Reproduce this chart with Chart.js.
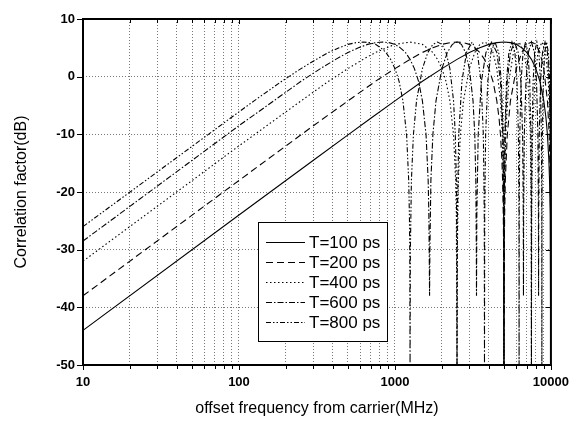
<!DOCTYPE html>
<html>
<head>
<meta charset="utf-8">
<script src="https://cdn.jsdelivr.net/npm/chart.js@4.4.0/dist/chart.umd.min.js"></script>
<style>
  html, body { margin: 0; padding: 0; background: #fff; }
</style>
</head>
<body>
<canvas id="chart" width="579" height="422"></canvas>
<script>
// valeurs (MHz / dB)
const seriesNames = ['T=100 ps', 'T=200 ps', 'T=400 ps', 'T=600 ps', 'T=800 ps'];

const f100 = [10, 100, 300, 500, 700, 1000, 1500, 2000, 2500, 3000, 3500, 4000, 4500, 5000,
  5500, 6000, 6500, 7000, 7500, 8000, 8500, 9000, 9300, 9500, 9700, 9800, 9900, 9950, 10000];
const db100 = [-44.0, -24.0, -14.5, -10.1, -7.2, -4.2, -0.8, 1.4, 3.0, 4.2, 5.0, 5.6, 5.9, 6.0,
  5.9, 5.6, 5.0, 4.2, 3.0, 1.4, -0.8, -4.2, -7.2, -10.1, -14.5, -18.0, -24.0, -30.0, -50];

const f200 = [10, 100, 300, 500, 750, 1000, 1250, 1500, 1750, 2000, 2250, 2500, 2750, 3000, 3250,
  3500, 3750, 4000, 4250, 4500, 4650, 4750, 4850, 4900, 4950, 4975, 5000,
  5025, 5050, 5100, 5250, 5500, 6000, 6500, 7000, 7500, 8000, 8500, 9000, 9500, 9750, 9900, 9950, 10000];
const db200 = [-38.0, -18.0, -8.5, -4.2, -0.8, 1.4, 3.0, 4.2, 5.0, 5.6, 5.9, 6.0, 5.9, 5.6, 5.0,
  4.2, 3.0, 1.4, -0.8, -4.2, -7.2, -10.1, -14.5, -18.0, -24.0, -30.0, -50,
  -30.0, -24.0, -18.0, -10.1, -4.2, 1.4, 4.2, 5.6, 6.0, 5.6, 4.2, 1.4, -4.2, -10.1, -18.0, -24.0, -50];

const f400 = [10, 100, 250, 375, 500, 625, 750, 1000, 1250, 1500, 1750, 1875, 2000, 2125, 2250, 2375, 2450, 2475, 2500,
  2513, 2550, 2625, 2750, 3000, 3250, 3500, 3750, 4000, 4250, 4500, 4750, 4875, 4950, 4988, 5000,
  5025, 5125, 5375, 5750, 6250, 6750, 7125, 7375, 7475, 7500,
  7525, 7625, 7875, 8250, 8750, 9250, 9625, 9875, 9975, 10000];
const db400 = [-32.0, -12.0, -4.2, -0.8, 1.4, 3.0, 4.2, 5.6, 6.0, 5.6, 4.2, 3.0, 1.4, -0.8, -4.2, -10.1, -18.0, -24.0, -50,
  -30.0, -18.0, -10.1, -4.2, 1.4, 4.2, 5.6, 6.0, 5.6, 4.2, 1.4, -4.2, -10.1, -18.0, -30.0, -50,
  -24.0, -10.1, -0.8, 4.2, 6.0, 4.2, -0.8, -10.1, -24.0, -50,
  -24.0, -10.1, -0.8, 4.2, 6.0, 4.2, -0.8, -10.1, -24.0, -50];

const f600 = [10, 100, 167, 250, 333, 417, 500, 583, 667, 750, 833, 917, 1000, 1083, 1167, 1250, 1333,
  1417, 1500, 1583, 1633, 1650, 1658, 1667,
  1675, 1700, 1750, 1833, 2000, 2167, 2333, 2500, 2667, 2833, 3000, 3167, 3250, 3300, 3325, 3333,
  3350, 3417, 3583, 3833, 4167, 4500, 4750, 4917, 4983, 5000,
  5017, 5083, 5250, 5500, 5833, 6167, 6417, 6583, 6650, 6667,
  6683, 6750, 6917, 7167, 7500, 7833, 8083, 8250, 8317, 8333,
  8350, 8417, 8583, 8833, 9167, 9500, 9750, 9917, 9983, 10000];
const db600 = [-28.5, -8.5, -4.2, -0.8, 1.4, 3.0, 4.2, 5.0, 5.6, 5.9, 6.0, 5.9, 5.6, 5.0, 4.2, 3.0, 1.4,
  -0.8, -4.2, -10.1, -18.0, -24.0, -30.0, -38,
  -30.0, -18.0, -10.1, -4.2, 1.4, 4.2, 5.6, 6.0, 5.6, 4.2, 1.4, -4.2, -10.1, -18.0, -30.0, -38,
  -24.0, -10.1, -0.8, 4.2, 6.0, 4.2, -0.8, -10.1, -24.0, -50,
  -24.0, -10.1, -0.8, 4.2, 6.0, 4.2, -0.8, -10.1, -24.0, -38,
  -24.0, -10.1, -0.8, 4.2, 6.0, 4.2, -0.8, -10.1, -24.0, -38,
  -24.0, -10.1, -0.8, 4.2, 6.0, 4.2, -0.8, -10.1, -24.0, -50];

const f800 = [10, 100, 125, 188, 250, 313, 375, 438, 500, 563, 625, 688, 750, 813, 875, 938, 1000,
  1063, 1125, 1188, 1225, 1238, 1244, 1250,
  1256, 1275, 1313, 1375, 1500, 1625, 1750, 1875, 2000, 2125, 2250, 2375, 2438, 2475, 2494, 2500,
  2513, 2563, 2688, 2875, 3125, 3375, 3563, 3688, 3738, 3750,
  3763, 3813, 3938, 4125, 4375, 4625, 4813, 4938, 4988, 5000,
  5013, 5063, 5188, 5375, 5625, 5875, 6063, 6188, 6238, 6250,
  6263, 6313, 6438, 6625, 6875, 7125, 7313, 7438, 7488, 7500,
  7513, 7563, 7688, 7875, 8125, 8375, 8563, 8688, 8738, 8750,
  8763, 8813, 8938, 9125, 9375, 9625, 9813, 9938, 9988, 10000];
const db800 = [-26.0, -6.1, -4.2, -0.8, 1.4, 3.0, 4.2, 5.0, 5.6, 5.9, 6.0, 5.9, 5.6, 5.0, 4.2, 3.0, 1.4,
  -0.8, -4.2, -10.1, -18.0, -24.0, -30.0, -50,
  -30.0, -18.0, -10.1, -4.2, 1.4, 4.2, 5.6, 6.0, 5.6, 4.2, 1.4, -4.2, -10.1, -18.0, -30.0, -50,
  -24.0, -10.1, -0.8, 4.2, 6.0, 4.2, -0.8, -10.1, -24.0, -50,
  -24.0, -10.1, -0.8, 4.2, 6.0, 4.2, -0.8, -10.1, -24.0, -50,
  -24.0, -10.1, -0.8, 4.2, 6.0, 4.2, -0.8, -10.1, -24.0, -50,
  -24.0, -10.1, -0.8, 4.2, 6.0, 4.2, -0.8, -10.1, -24.0, -50,
  -24.0, -10.1, -0.8, 4.2, 6.0, 4.2, -0.8, -10.1, -24.0, -50,
  -24.0, -10.1, -0.8, 4.2, 6.0, 4.2, -0.8, -10.1, -24.0, -50];

// graduations
const xTicks = [10, 20, 30, 40, 50, 60, 70, 80, 90, 100, 200, 300, 400, 500, 600, 700, 800, 900,
  1000, 2000, 3000, 4000, 5000, 6000, 7000, 8000, 9000, 10000];
const xLabels = [10, 100, 1000, 10000];
const yTicks = [-50, -40, -30, -20, -10, 0, 10];

// styles de trait
const dashes = [[], [7, 4], [1.5, 2.5], [6, 2, 1.5, 2], [5, 2, 1.5, 2, 1.5, 2]];

const allF = [f100, f200, f400, f600, f800];
const allDb = [db100, db200, db400, db600, db800];

const datasets = seriesNames.map((name, i) => ({
  label: name,
  data: allF[i].map((f, k) => ({ x: f, y: allDb[i][k] })),
  borderColor: '#000',
  borderWidth: 1.1,
  borderDash: dashes[i],
  pointRadius: 0,
  tension: 0,
  fill: false
}));

// cadre + petites graduations
const framePlugin = {
  id: 'frame',
  afterDatasetsDraw(chart) {
    const { ctx, chartArea: ca, scales: { x, y } } = chart;
    ctx.save();
    ctx.strokeStyle = '#000';
    ctx.lineWidth = 1;
    ctx.beginPath();
    xTicks.forEach(v => {
      const px = Math.round(x.getPixelForValue(v)) + 0.5;
      const len = xLabels.includes(v) ? 5 : 4;
      ctx.moveTo(px, ca.bottom); ctx.lineTo(px, ca.bottom + len);
      ctx.moveTo(px, ca.top); ctx.lineTo(px, ca.top + len);
    });
    yTicks.forEach(v => {
      const py = Math.round(y.getPixelForValue(v)) + 0.5;
      ctx.moveTo(ca.left - 6, py); ctx.lineTo(ca.left, py);
      ctx.moveTo(ca.right, py); ctx.lineTo(ca.right - 5, py);
    });
    ctx.stroke();
    ctx.lineWidth = 2;
    ctx.strokeRect(ca.left, ca.top, ca.right - ca.left, ca.bottom - ca.top);
    ctx.restore();
  }
};

// légende dans le cadre
const legendPlugin = {
  id: 'boxLegend',
  afterDraw(chart) {
    const { ctx } = chart;
    const bx = 258, by = 222, bw = 129, bh = 119;
    ctx.save();
    ctx.fillStyle = '#fff';
    ctx.fillRect(bx, by, bw, bh);
    ctx.strokeStyle = '#000';
    ctx.lineWidth = 1;
    ctx.strokeRect(bx + 0.5, by + 0.5, bw, bh);
    ctx.font = '17px Arial, "Liberation Sans", sans-serif';
    ctx.fillStyle = '#000';
    ctx.textBaseline = 'middle';
    chart.data.datasets.forEach((ds, i) => {
      const ly = by + 20 + i * 20 + 0.5;
      ctx.setLineDash(ds.borderDash);
      ctx.beginPath();
      ctx.moveTo(bx + 8, ly);
      ctx.lineTo(bx + 47, ly);
      ctx.stroke();
      ctx.setLineDash([]);
      ctx.fillText(ds.label, bx + 51, ly + 1);
    });
    ctx.restore();
  }
};

const tickFont = { family: 'Arial, "Liberation Sans", sans-serif', size: 13, weight: 'bold' };
const titleFont = { family: 'Arial, "Liberation Sans", sans-serif', size: 16 };

new Chart(document.getElementById('chart'), {
  type: 'line',
  data: { datasets },
  options: {
    responsive: false,
    animation: false,
    layout: { padding: { top: 19, right: 23, left: 0, bottom: 0 } },
    plugins: { legend: { display: false }, tooltip: { enabled: false } },
    scales: {
      x: {
        type: 'logarithmic',
        min: 10,
        max: 10000,
        afterBuildTicks: s => { s.ticks = xTicks.map(v => ({ value: v })); },
        afterFit: s => { s.height = 57; },
        ticks: {
          autoSkip: false,
          maxRotation: 0,
          padding: 10,
          color: '#000',
          font: tickFont,
          callback: v => xLabels.includes(v) ? String(v) : ''
        },
        grid: { color: '#777', lineWidth: 1, drawTicks: false },
        border: { display: false, dash: [1, 2] },
        title: { display: true, text: 'offset frequency from carrier(MHz)', color: '#000', font: titleFont, padding: { top: 0, bottom: 4 } }
      },
      y: {
        min: -50,
        max: 10,
        afterBuildTicks: s => { s.ticks = yTicks.map(v => ({ value: v })); },
        afterFit: s => { s.width = 83; },
        ticks: { padding: 8, color: '#000', font: tickFont },
        grid: { color: '#777', lineWidth: 1, drawTicks: false },
        border: { display: false, dash: [1, 2] },
        title: { display: true, text: 'Correlation factor(dB)', color: '#000', font: titleFont, padding: { top: 12, bottom: 0 } }
      }
    }
  },
  plugins: [framePlugin, legendPlugin]
});
</script>
</body>
</html>
